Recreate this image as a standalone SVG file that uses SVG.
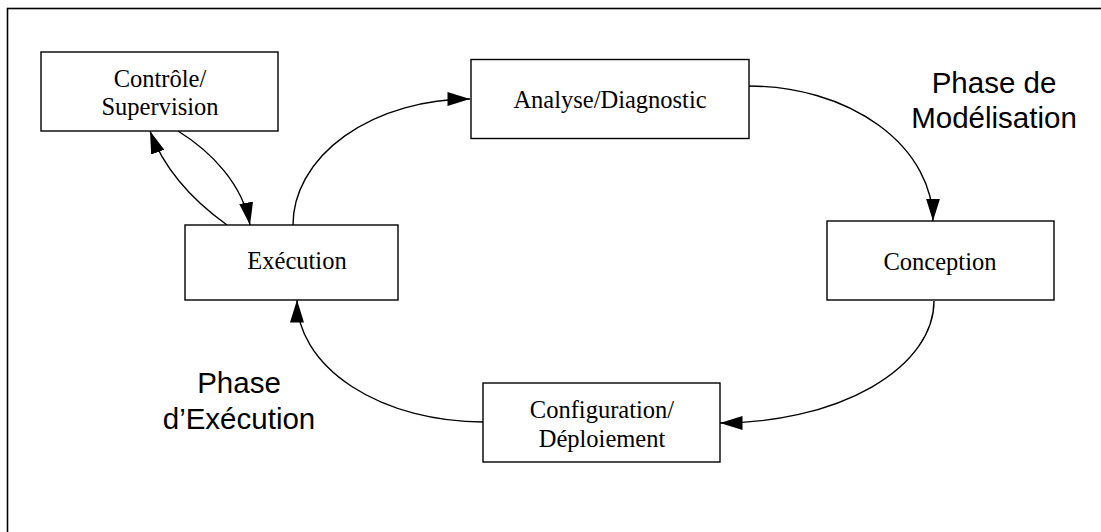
<svg xmlns="http://www.w3.org/2000/svg" width="1101" height="532" viewBox="0 0 1101 532">
  <style>
    .box { fill: #ffffff; stroke: #000000; stroke-width: 1.4; }
    .lbl { font-family: "Liberation Serif", "Times New Roman", serif; font-size: 24.5px; fill: #000000; text-anchor: middle; }
    .phase { font-family: "Liberation Sans", Arial, sans-serif; font-size: 29.5px; fill: #000000; text-anchor: middle; }
    .edge { fill: none; stroke: #000000; stroke-width: 1.4; marker-end: url(#arrow); }
    .frame { fill: none; stroke: #000000; stroke-width: 1.6; }
  </style>
  <defs>
    <marker id="arrow" markerUnits="userSpaceOnUse" markerWidth="24" markerHeight="15" refX="22.5" refY="7" orient="auto">
      <path d="M0,0 L22.5,7 L0,14 z" fill="#000000"/>
    </marker>
  </defs>

  <rect width="1101" height="532" fill="#ffffff"/>
  <!-- outer frame, open on the right and bottom -->
  <rect class="frame" x="7.5" y="8.5" width="1120" height="560"/>

  <g id="connectors">
    <!-- main cycle drawn as quarter ellipses -->
    <path class="edge" d="M293,225 A177,126 0 0 1 470,99"/>
    <path class="edge" d="M749,86 A184,135 0 0 1 933,221"/>
    <path class="edge" d="M934,301 A214,122 0 0 1 720,423"/>
    <path class="edge" d="M483,422 A186,122 0 0 1 297,300"/>
    <!-- control loop -->
    <path class="edge" d="M178,131 C212,152 243,185 250,225"/>
    <path class="edge" d="M227,225 C195,202 165,172 150,131"/>
  </g>

  <g id="node-controle">
    <rect class="box" x="41" y="52" width="237" height="79"/>
    <text class="lbl" x="160" y="87">Contrôle/</text>
    <text class="lbl" x="160" y="115">Supervision</text>
  </g>

  <g id="node-analyse">
    <rect class="box" x="471" y="59.5" width="278" height="79"/>
    <text class="lbl" x="610" y="108">Analyse/Diagnostic</text>
  </g>

  <g id="node-execution">
    <rect class="box" x="185" y="225" width="213" height="75"/>
    <text class="lbl" x="297" y="269">Exécution</text>
  </g>

  <g id="node-conception">
    <rect class="box" x="827" y="221" width="227" height="79"/>
    <text class="lbl" x="940" y="270">Conception</text>
  </g>

  <g id="node-configuration">
    <rect class="box" x="483" y="383" width="237" height="79"/>
    <text class="lbl" x="602" y="418">Configuration/</text>
    <text class="lbl" x="602" y="447">Déploiement</text>
  </g>

  <g id="label-modelisation">
    <text class="phase" x="994" y="93">Phase de</text>
    <text class="phase" x="994" y="128">Modélisation</text>
  </g>

  <g id="label-execution">
    <text class="phase" x="239" y="393">Phase</text>
    <text class="phase" x="239" y="429">d’Exécution</text>
  </g>
</svg>
